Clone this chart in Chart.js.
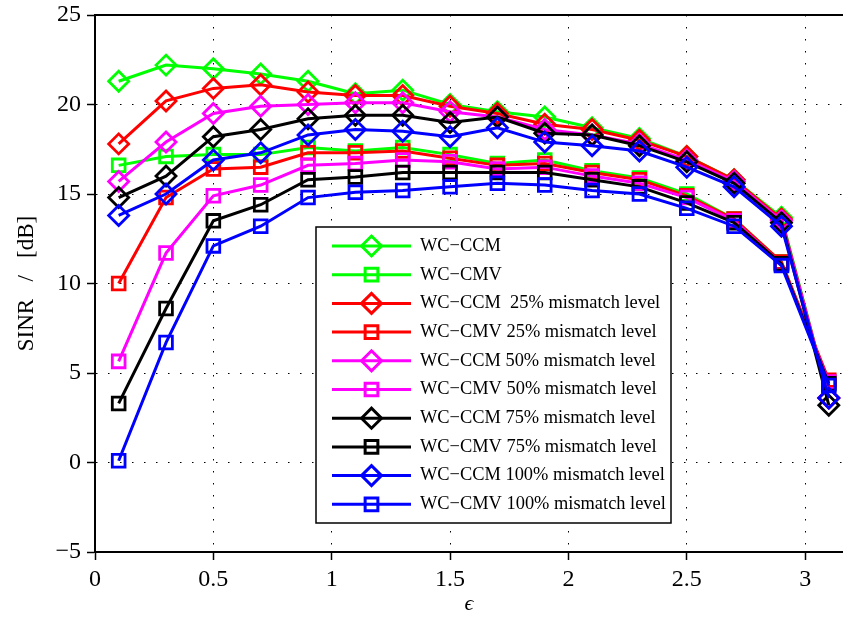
<!DOCTYPE html>
<html>
<head>
<meta charset="utf-8">
<script src="https://cdn.jsdelivr.net/npm/chart.js@4.4.0/dist/chart.umd.min.js"></script>
<style>
html, body { margin: 0; padding: 0; background: #fff; }
</style>
</head>
<body>
<canvas id="myChart" width="843" height="621"></canvas>
<script>
const epsValues = [0.1, 0.3, 0.5, 0.7, 0.9, 1.1, 1.3, 1.5, 1.7, 1.9, 2.1, 2.3, 2.5, 2.7, 2.9, 3.1];

const ccmValues      = [21.3, 22.2, 22.0, 21.7, 21.3, 20.6, 20.8, 20.0, 19.6, 19.3, 18.7, 18.1, 17.1, 15.8, 13.7, 3.6];
const cmvValues      = [16.6, 17.1, 17.2, 17.2, 17.6, 17.4, 17.6, 17.2, 16.7, 16.9, 16.3, 15.9, 15.0, 13.6, 11.2, 4.5];
const ccm25Values    = [17.8, 20.2, 20.9, 21.1, 20.7, 20.5, 20.5, 19.9, 19.5, 18.9, 18.6, 18.0, 17.1, 15.8, 13.6, 3.6];
const cmv25Values    = [10.0, 14.8, 16.4, 16.5, 17.3, 17.3, 17.4, 17.0, 16.6, 16.7, 16.2, 15.8, 14.9, 13.6, 11.2, 4.6];
const ccm50Values    = [15.7, 17.9, 19.5, 19.9, 20.0, 20.1, 20.1, 19.6, 19.3, 18.6, 18.3, 17.8, 16.9, 15.7, 13.5, 3.6];
const cmv50Values    = [5.65, 11.7, 14.9, 15.5, 16.6, 16.7, 16.9, 16.8, 16.4, 16.5, 16.0, 15.6, 14.8, 13.5, 11.1, 4.5];
const ccm75Values    = [14.8, 16.0, 18.2, 18.6, 19.2, 19.4, 19.4, 19.0, 19.3, 18.4, 18.3, 17.7, 16.8, 15.6, 13.4, 3.2];
const cmv75Values    = [3.3, 8.6, 13.5, 14.4, 15.8, 15.95, 16.2, 16.2, 16.2, 16.2, 15.8, 15.4, 14.5, 13.4, 11.1, 4.4];
const ccm100Values   = [13.8, 15.0, 16.9, 17.3, 18.3, 18.6, 18.5, 18.2, 18.7, 17.9, 17.7, 17.4, 16.5, 15.4, 13.2, 3.6];
const cmv100Values   = [0.1, 6.7, 12.1, 13.2, 14.8, 15.1, 15.2, 15.4, 15.6, 15.5, 15.2, 15.0, 14.2, 13.2, 11.0, 4.3];

const seriesLabels = [
  "WC\u2212CCM", "WC\u2212CMV",
  "WC\u2212CCM  25% mismatch level", "WC\u2212CMV 25% mismatch level",
  "WC\u2212CCM 50% mismatch level", "WC\u2212CMV 50% mismatch level",
  "WC\u2212CCM 75% mismatch level", "WC\u2212CMV 75% mismatch level",
  "WC\u2212CCM 100% mismatch level", "WC\u2212CMV 100% mismatch level"
];
const seriesValues = [ccmValues, cmvValues, ccm25Values, cmv25Values, ccm50Values, cmv50Values,
  ccm75Values, cmv75Values, ccm100Values, cmv100Values];
const seriesColors = ['#00ff00', '#00ff00', '#ff0000', '#ff0000', '#ff00ff', '#ff00ff',
  '#000000', '#000000', '#0000ff', '#0000ff'];
const xTickValues = [0, 0.5, 1, 1.5, 2, 2.5, 3];
const yTickValues = [-5, 0, 5, 10, 15, 20, 25];

const serif = '"Liberation Serif", "DejaVu Serif", serif';

const datasets = seriesValues.map((vals, i) => {
  const diamond = i % 2 === 0;
  return {
    label: seriesLabels[i],
    data: vals.map((v, k) => ({x: epsValues[k], y: v})),
    borderColor: seriesColors[i],
    backgroundColor: 'rgba(0,0,0,0)',
    borderWidth: 3,
    pointStyle: diamond ? 'rectRot' : 'rect',
    pointRadius: diamond ? 10 : 9,
    pointBorderWidth: 2.8,
    pointBorderColor: seriesColors[i],
    pointBackgroundColor: 'rgba(0,0,0,0)',
    tension: 0,
    order: seriesValues.length - i
  };
});

const boxLegend = {
  id: 'boxLegend',
  afterDraw(chart) {
    const ctx = chart.ctx;
    const a = chart.chartArea;
    ctx.save();
    ctx.strokeStyle = '#000';
    ctx.lineWidth = 2;
    ctx.beginPath();
    ctx.moveTo(a.left, a.top);
    ctx.lineTo(a.right, a.top);
    ctx.stroke();

    const left = 316, top = 227, w = 355, h = 296;
    ctx.fillStyle = '#fff';
    ctx.fillRect(left, top, w, h);
    ctx.lineWidth = 1.5;
    ctx.strokeRect(left, top, w, h);
    ctx.font = '18.4px ' + serif;
    ctx.textBaseline = 'middle';
    chart.data.datasets.forEach((ds, i) => {
      const y = top + 19 + i * 28.7;
      ctx.strokeStyle = ds.borderColor;
      ctx.lineWidth = 3;
      ctx.beginPath();
      ctx.moveTo(332, y);
      ctx.lineTo(411, y);
      ctx.stroke();
      ctx.fillStyle = 'rgba(0,0,0,0)';
      Chart.helpers.drawPoint(ctx, {pointStyle: ds.pointStyle, radius: ds.pointRadius, borderWidth: 2.8, rotation: 0}, 371.5, y);
      ctx.fillStyle = '#000';
      ctx.fillText(ds.label, 420, y);
    });
    ctx.restore();
  }
};

const minusTick = v => String(v).replace('-', '\u2212');

new Chart("myChart", {
  type: "line",
  data: {datasets: datasets},
  plugins: [boxLegend],
  options: {
    responsive: false,
    animation: false,
    layout: {autoPadding: false, padding: {top: 15, right: 0, left: 0, bottom: 0}},
    plugins: {legend: {display: false}, tooltip: {enabled: false}},
    scales: {
      x: {
        type: 'linear',
        min: 0,
        max: 3.16,
        afterBuildTicks: axis => { axis.ticks = xTickValues.map(v => ({value: v})); },
        afterFit: scale => { scale.height = 69; scale.paddingLeft = 0; scale.paddingRight = 0; },
        ticks: {color: '#000', font: {family: serif, size: 24}, padding: 5, maxRotation: 0, autoSkip: false, callback: minusTick},
        grid: {color: '#000', lineWidth: 1, tickLength: 8, tickColor: '#000', tickWidth: 1.5},
        border: {display: true, color: '#000', width: 2, dash: [1.5, 10.5]},
        title: {display: true, text: '\u03f5', color: '#000', font: {family: serif, size: 22, style: 'italic'}, padding: {top: 0}}
      },
      y: {
        min: -5,
        max: 25,
        afterBuildTicks: axis => { axis.ticks = yTickValues.map(v => ({value: v})); },
        afterFit: scale => { scale.width = 95; scale.paddingTop = 0; scale.paddingBottom = 0; },
        ticks: {color: '#000', font: {family: serif, size: 24}, padding: 6, autoSkip: false, callback: minusTick},
        grid: {color: '#000', lineWidth: 1, tickLength: 8, tickColor: '#000', tickWidth: 1.5},
        border: {display: true, color: '#000', width: 2, dash: [1.5, 10.5]},
        title: {display: true, text: 'SINR   /   [dB]', color: '#000', font: {family: serif, size: 23}, padding: {top: 13, bottom: 0}}
      }
    }
  }
});
</script>
</body>
</html>
